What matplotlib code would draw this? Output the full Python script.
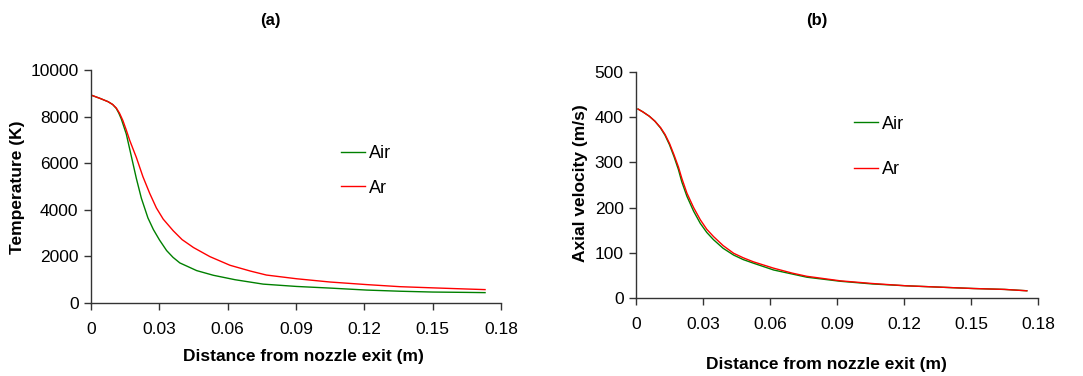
import matplotlib.pyplot as plt

plt.rcParams['font.family'] = ['Liberation Sans', 'DejaVu Sans']

# temperature along the jet axis (K)
dist_ar_t = [0.0, 0.004, 0.0075, 0.0095, 0.0111, 0.0125, 0.014, 0.0155, 0.017,
             0.0185, 0.0199, 0.0228, 0.0258, 0.0287, 0.0317, 0.0361, 0.040,
             0.045, 0.0522, 0.061, 0.070, 0.077, 0.0903, 0.105, 0.121, 0.1357,
             0.150, 0.165, 0.173]
temp_ar = [8925, 8780, 8640, 8520, 8370, 8150, 7830, 7420, 6980,
           6600, 6250, 5420, 4700, 4080, 3600, 3100, 2720,
           2380, 1990, 1620, 1370, 1200, 1040, 900, 790, 700,
           650, 600, 575]
dist_air_t = [0.0, 0.004, 0.0075, 0.0095, 0.0111, 0.0122, 0.0133, 0.0155, 0.0177,
              0.0199, 0.0221, 0.025, 0.0274, 0.0301, 0.0332, 0.036, 0.039,
              0.0464, 0.0537, 0.0632, 0.0756, 0.0903, 0.105, 0.121, 0.1357,
              0.150, 0.165, 0.173]
temp_air = [8925, 8780, 8640, 8520, 8350, 8150, 7900, 7250, 6300,
            5350, 4500, 3650, 3150, 2700, 2250, 1960, 1720,
            1390, 1190, 1000, 810, 710, 640, 555, 505,
            470, 455, 445]

# axial velocity (m/s)
dist_v = [0.0009, 0.003, 0.006, 0.0085, 0.011, 0.013, 0.015, 0.017, 0.019,
          0.0205, 0.0228, 0.0258, 0.0288, 0.0317, 0.0347, 0.039, 0.0437, 0.048,
          0.0526, 0.0616, 0.070, 0.0765, 0.0915, 0.106, 0.121, 0.136, 0.151,
          0.165, 0.175]
vel_ar = [418, 412, 402, 391, 377, 362, 342, 317, 290,
          265, 232, 200, 173, 152, 136, 116, 99, 89,
          80, 66, 55, 48, 38, 32, 27, 24, 21,
          19, 16]
vel_air = [418, 412, 402, 391, 376, 360, 339, 313, 284,
           257, 225, 192, 165, 145, 129, 110, 95, 85,
           77, 62, 53, 46, 37, 31, 27, 24, 21,
           19, 16]

ticks_x = [0, 0.03, 0.06, 0.09, 0.12, 0.15, 0.18]
ticklabels_x = ['0', '0.03', '0.06', '0.09', '0.12', '0.15', '0.18']

W, H = 1083, 376
fig = plt.figure(figsize=(W / 100, H / 100), dpi=100)


def px_axes(x0, y0, x1, y1):
    return fig.add_axes([x0 / W, 1 - y1 / H, (x1 - x0) / W, (y1 - y0) / H])


def style(ax):
    for s in ['top', 'right']:
        ax.spines[s].set_visible(False)
    for s in ['left', 'bottom']:
        ax.spines[s].set_color('#333333')
        ax.spines[s].set_linewidth(1.0)
    ax.tick_params(direction='out', length=5, width=1, colors='#333333',
                   labelcolor='black', labelsize=12.5, pad=4)
    ax.set_xlim(0, 0.18)
    ax.set_xticks(ticks_x)
    ax.set_xticklabels(ticklabels_x)
    ax.tick_params(axis='x', pad=9)


ax1 = px_axes(91, 70, 501, 303)
ax1.plot(dist_air_t, temp_air, color='#008000', lw=1.0, label='Air')
ax1.plot(dist_ar_t, temp_ar, color='#ff0000', lw=1.0, label='Ar')
style(ax1)
ax1.set_ylim(0, 10000)
ax1.set_yticks(range(0, 10001, 2000))
ax1.legend(frameon=False, fontsize=13, handlelength=1.3, handletextpad=0.25,
           labelspacing=0.95, loc='center left',
           bbox_to_anchor=(325 / W, 1 - 171 / H), bbox_transform=fig.transFigure)

ax2 = px_axes(636, 72, 1038, 298)
ax2.plot(dist_v, vel_air, color='#008000', lw=1.0, label='Air')
ax2.plot(dist_v, vel_ar, color='#ff0000', lw=1.0, label='Ar')
style(ax2)
ax2.set_ylim(0, 500)
ax2.set_yticks(range(0, 501, 100))
ax2.legend(frameon=False, fontsize=13, handlelength=1.3, handletextpad=0.25,
           labelspacing=1.6, loc='center left',
           bbox_to_anchor=(838 / W, 1 - 147 / H), bbox_transform=fig.transFigure)

bold = dict(fontsize=12.5, fontweight='bold', ha='center', va='center')
fig.text(270 / W, 1 - 20 / H, '(a)', **dict(bold, fontsize=12))
fig.text(817 / W, 1 - 20 / H, '(b)', **dict(bold, fontsize=12))
fig.text(303 / W, 1 - 356 / H, 'Distance from nozzle exit (m)', **bold)
fig.text(826 / W, 1 - 365 / H, 'Distance from nozzle exit (m)', **bold)
fig.text(18 / W, 1 - 187 / H, 'Temperature (K)', rotation=90, **bold)
fig.text(580 / W, 1 - 183 / H, 'Axial velocity (m/s)', rotation=90, **bold)

fig.savefig('out.png', dpi=100)
